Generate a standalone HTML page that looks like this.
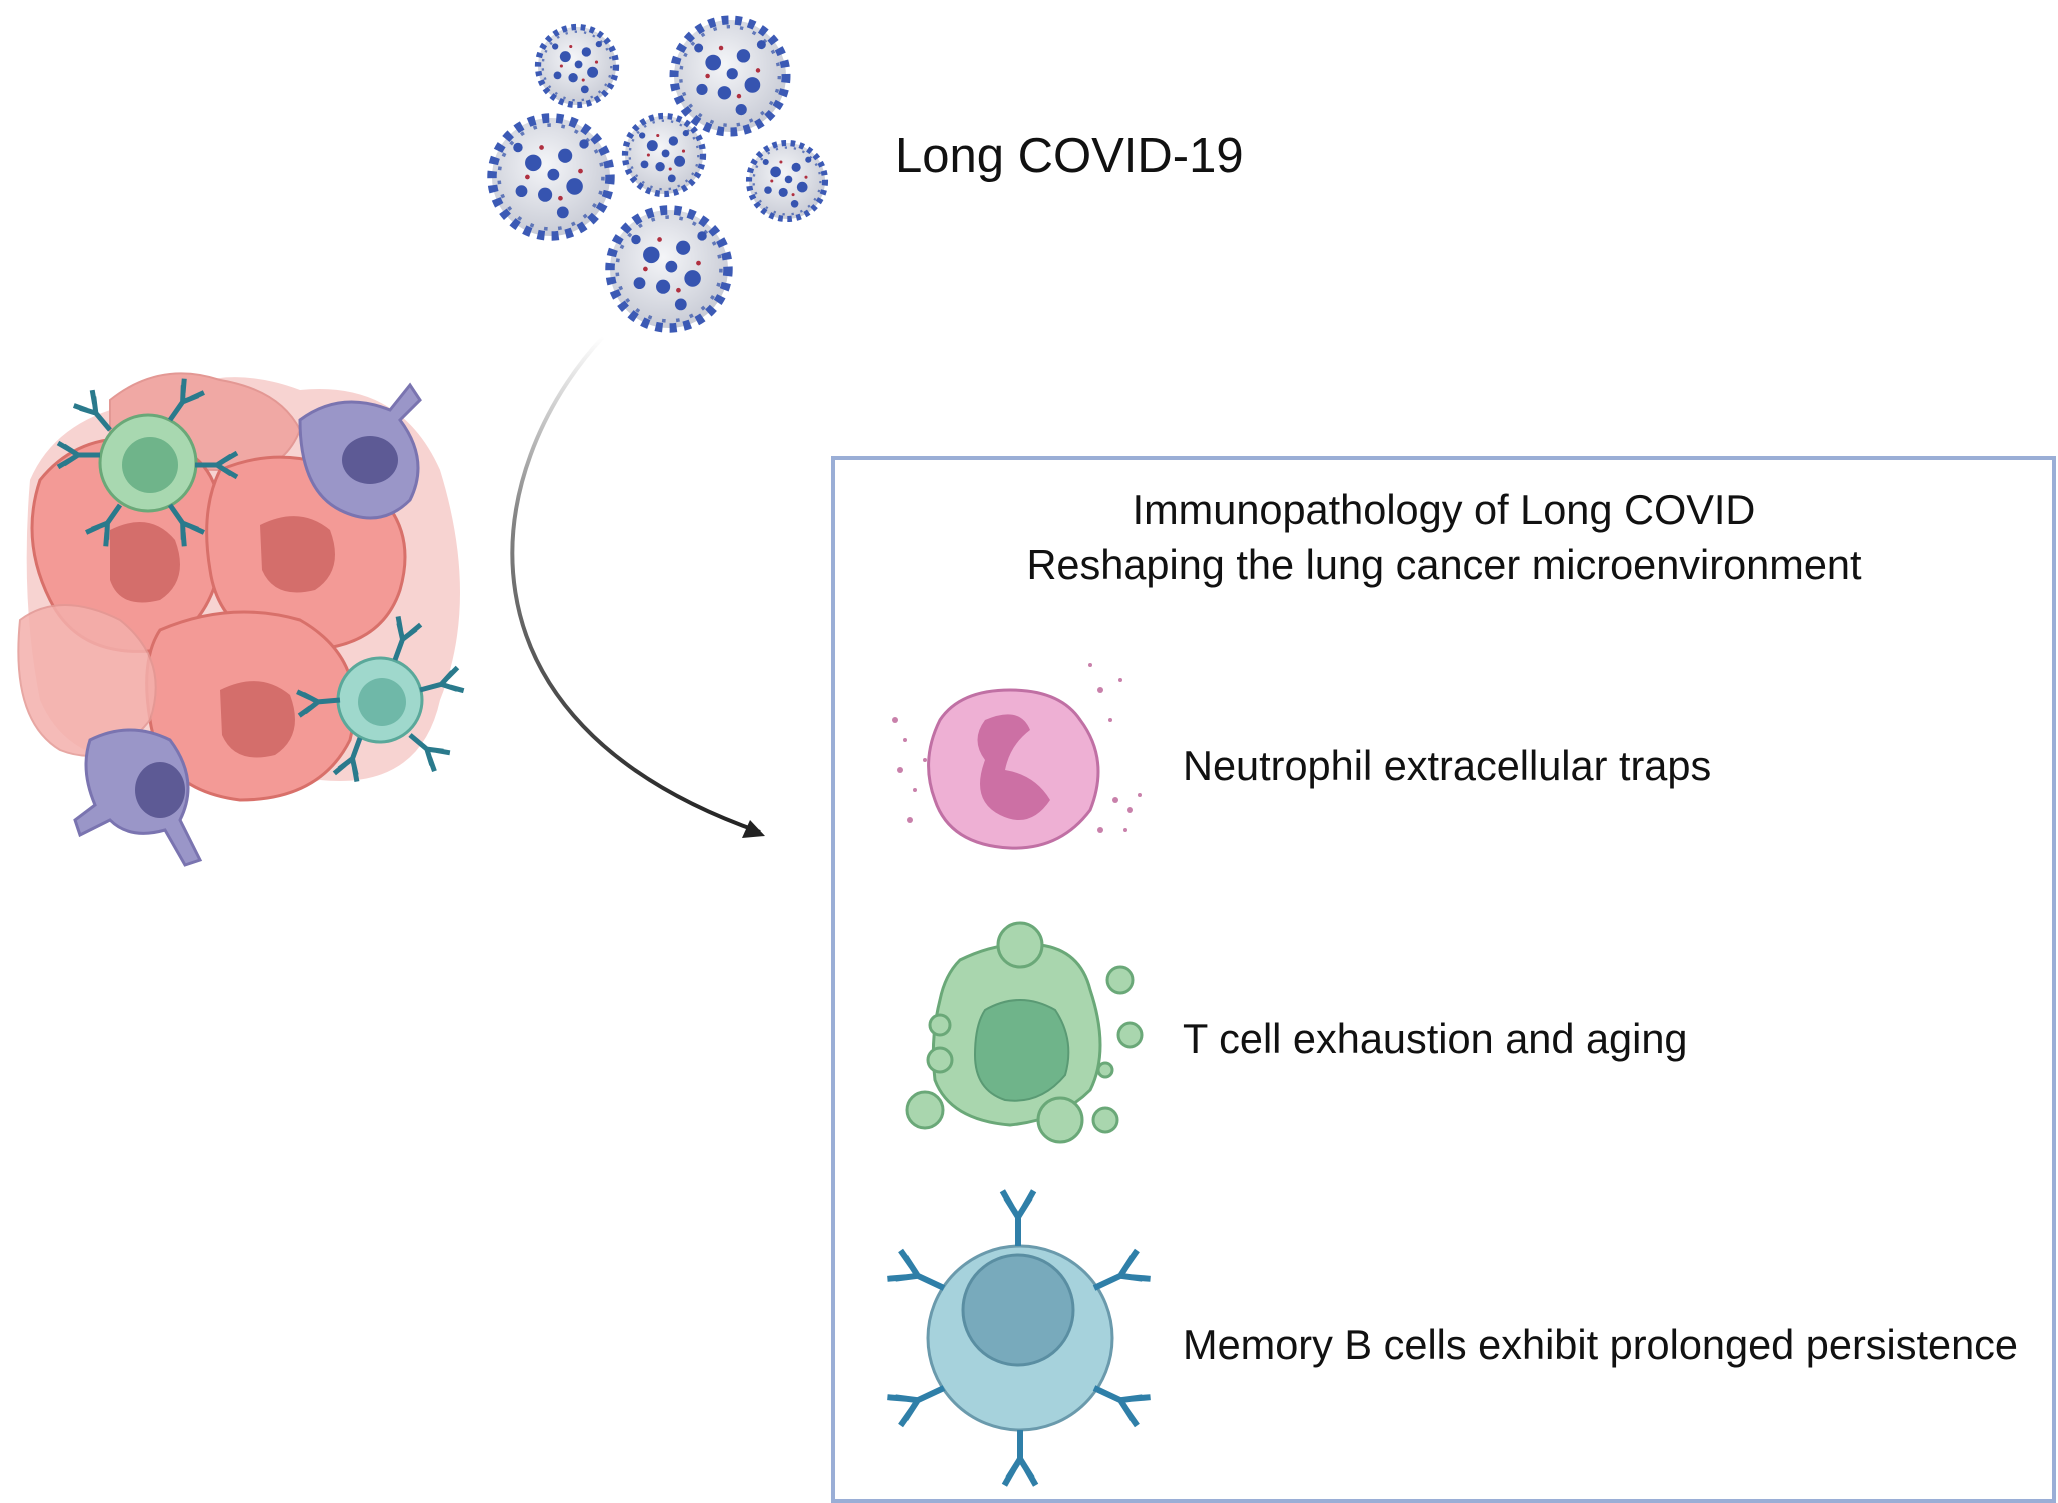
<!DOCTYPE html>
<html><head><meta charset="utf-8"><style>
html,body{margin:0;padding:0;background:#fff;}
svg{display:block}
text{font-family:"Liberation Sans",Arial,sans-serif;fill:#111}
</style></head><body>
<svg width="2058" height="1503" viewBox="0 0 2058 1503" xmlns="http://www.w3.org/2000/svg">
<defs>
<radialGradient id="vir" cx="0.45" cy="0.4" r="0.6"><stop offset="0" stop-color="#f4f5f8"/><stop offset="1" stop-color="#c9ccd6"/></radialGradient>
<linearGradient id="arr" x1="0" y1="0" x2="0" y2="1"><stop offset="0" stop-color="#fff"/><stop offset="0.35" stop-color="#888"/><stop offset="1" stop-color="#222"/></linearGradient>
<g id="virus">
<circle r="50" fill="url(#vir)" stroke="#3c5ab5" stroke-width="8" stroke-dasharray="6 6"/>
<circle r="44" fill="none" stroke="#2f4ea8" stroke-width="3" stroke-dasharray="3 9" opacity="0.7"/>
<g fill="#3654b0"><circle cx="-15" cy="-12" r="7"/><circle cx="12" cy="-18" r="6"/><circle cx="20" cy="8" r="7"/><circle cx="-5" cy="15" r="6"/><circle cx="-25" cy="12" r="5"/><circle cx="2" cy="-2" r="5"/><circle cx="-28" cy="-25" r="4"/><circle cx="28" cy="-28" r="4"/><circle cx="10" cy="30" r="5"/></g>
<g fill="#b03040"><circle cx="-8" cy="-25" r="2"/><circle cx="25" cy="-5" r="2"/><circle cx="-20" cy="0" r="2"/><circle cx="8" cy="18" r="2"/></g>
</g>
<g id="ab" stroke="#2a7a8c" stroke-width="5" fill="none"><path d="M0 0 V-22 M0 -22 L-9 -36 M0 -22 L9 -36 M-5 -30 L-12 -42 M5 -30 L12 -42"/></g>
<g id="abb" stroke="#2f7fa8" stroke-width="5" fill="none"><path d="M0 0 V-24 M0 -24 L-10 -40 M0 -24 L10 -40 M-5 -32 L-13 -46 M5 -32 L13 -46"/></g>
</defs>

<!-- viruses -->
<use href="#virus" transform="translate(730,76) scale(1.12)"/>
<use href="#virus" transform="translate(577,66) scale(0.78)"/>
<use href="#virus" transform="translate(551,177) scale(1.18)"/>
<use href="#virus" transform="translate(664,155) scale(0.78)"/>
<use href="#virus" transform="translate(787,181) scale(0.76)"/>
<use href="#virus" transform="translate(669,269) scale(1.18)"/>

<text x="895" y="172" font-size="49">Long COVID-19</text>

<!-- arrow -->
<path d="M603 337 C480 470 440 720 760 832" fill="none" stroke="url(#arr)" stroke-width="4"/>
<path d="M765 836 L742 838 L750 820 Z" fill="#222"/>

<!-- tumor cluster -->
<g>
<path d="M30 480 Q20 600 40 700 Q70 770 160 760 Q260 800 320 780 Q420 790 440 700 Q480 600 440 470 Q400 380 300 390 Q220 360 160 400 Q60 410 30 480Z" fill="#f3c0bd" opacity="0.7"/>
<path d="M110 400 Q160 360 220 380 Q280 390 300 430 Q280 480 220 470 Q150 470 110 440Z" fill="#f0a8a4" stroke="#e39894" stroke-width="2"/>
<path d="M40 480 Q80 430 150 440 Q220 450 220 520 Q230 610 160 650 Q80 660 50 600 Q20 540 40 480Z" fill="#f39a96" stroke="#d8706a" stroke-width="3"/>
<path d="M220 470 Q290 440 360 480 Q420 520 400 590 Q380 650 300 650 Q220 640 210 570 Q200 510 220 470Z" fill="#f39a96" stroke="#d8706a" stroke-width="3"/>
<path d="M160 630 Q230 600 300 620 Q370 660 350 740 Q320 800 240 800 Q160 790 150 720 Q140 660 160 630Z" fill="#f39a96" stroke="#d8706a" stroke-width="3"/>
<path d="M20 620 Q60 590 120 620 Q170 660 150 720 Q110 770 60 750 Q10 720 20 620Z" fill="#f4b0ac" stroke="#e39894" stroke-width="2" opacity="0.85"/>
<path d="M110 530 Q150 510 175 540 Q190 580 160 600 Q120 610 110 580Z" fill="#d46e6b"/>
<path d="M260 525 Q300 505 330 530 Q345 570 315 590 Q275 600 262 570Z" fill="#d46e6b"/>
<path d="M220 690 Q260 670 290 695 Q305 735 275 755 Q235 765 222 735Z" fill="#d46e6b"/>
<path d="M300 420 Q340 390 390 410 L410 385 L420 400 L400 420 Q430 460 410 500 Q380 530 340 510 Q300 490 300 420Z" fill="#9a96c8" stroke="#7a74b0" stroke-width="3"/>
<ellipse cx="370" cy="460" rx="28" ry="24" fill="#5d5a95"/>
<path d="M90 740 Q130 720 170 740 Q200 780 180 820 L200 860 L185 865 L165 830 Q130 840 110 820 L80 835 L75 820 L95 805 Q80 770 90 740Z" fill="#9a96c8" stroke="#7a74b0" stroke-width="3"/>
<ellipse cx="160" cy="790" rx="25" ry="28" fill="#5d5a95"/>
<circle cx="148" cy="463" r="48" fill="#a8d8b0" stroke="#6aa878" stroke-width="3"/>
<circle cx="150" cy="465" r="28" fill="#6fb48a"/>
<use href="#ab" transform="translate(110,430) rotate(-40)"/>
<use href="#ab" transform="translate(170,420) rotate(35)"/>
<use href="#ab" transform="translate(100,455) rotate(-90)"/>
<use href="#ab" transform="translate(195,465) rotate(90)"/>
<use href="#ab" transform="translate(120,505) rotate(-145)"/>
<use href="#ab" transform="translate(170,505) rotate(145)"/>
<circle cx="380" cy="700" r="42" fill="#9fd8cc" stroke="#5aa89a" stroke-width="3"/>
<circle cx="382" cy="702" r="24" fill="#6fb8a8"/>
<use href="#ab" transform="translate(395,660) rotate(20)"/>
<use href="#ab" transform="translate(420,690) rotate(75)"/>
<use href="#ab" transform="translate(340,700) rotate(-95)"/>
<use href="#ab" transform="translate(410,735) rotate(130)"/>
<use href="#ab" transform="translate(360,738) rotate(-160)"/>
</g>

<!-- box -->
<rect x="833" y="458" width="1221" height="1043" fill="none" stroke="#9aaed6" stroke-width="4"/>
<text x="1444" y="524" font-size="41.5" text-anchor="middle">Immunopathology of Long COVID</text>
<text x="1444" y="579" font-size="41.5" text-anchor="middle">Reshaping the lung cancer microenvironment</text>

<!-- neutrophil -->
<path d="M940 720 Q960 690 1010 690 Q1060 690 1080 720 Q1110 760 1090 810 Q1060 850 1010 848 Q950 845 935 800 Q920 760 940 720Z" fill="#eeb0d4" stroke="#c070a4" stroke-width="3"/>
<path d="M985 720 Q1020 705 1030 730 Q1010 745 1005 770 Q1035 775 1050 800 Q1030 830 1000 815 Q970 800 985 760 Q970 740 985 720Z" fill="#cc70a4"/>
<g fill="#c880aa"><circle cx="895" cy="720" r="3"/><circle cx="905" cy="740" r="2"/><circle cx="900" cy="770" r="3"/><circle cx="915" cy="790" r="2"/><circle cx="910" cy="820" r="3"/><circle cx="1100" cy="690" r="3"/><circle cx="1120" cy="680" r="2"/><circle cx="1110" cy="720" r="2"/><circle cx="1115" cy="800" r="3"/><circle cx="1130" cy="810" r="3"/><circle cx="1140" cy="795" r="2"/><circle cx="1125" cy="830" r="2"/><circle cx="1100" cy="830" r="3"/><circle cx="1090" cy="665" r="2"/><circle cx="925" cy="760" r="2"/></g>
<text x="1183" y="780" font-size="41.5">Neutrophil extracellular traps</text>

<!-- T cell -->
<path d="M960 960 Q1000 940 1040 945 Q1080 950 1090 990 Q1110 1050 1090 1090 Q1060 1120 1010 1125 Q950 1120 935 1080 Q930 1040 940 1000 Q945 975 960 960Z" fill="#a9d6ae" stroke="#6aa878" stroke-width="3"/>
<path d="M985 1010 Q1020 990 1055 1010 Q1075 1040 1065 1075 Q1040 1105 1005 1100 Q975 1090 975 1055 Q975 1025 985 1010Z" fill="#6fb48a" stroke="#5a9a74" stroke-width="2"/>
<g fill="#a9d6ae" stroke="#6aa878" stroke-width="3"><circle cx="1020" cy="945" r="22"/><circle cx="1120" cy="980" r="13"/><circle cx="1130" cy="1035" r="12"/><circle cx="940" cy="1025" r="10"/><circle cx="940" cy="1060" r="12"/><circle cx="925" cy="1110" r="18"/><circle cx="1060" cy="1120" r="22"/><circle cx="1105" cy="1120" r="12"/><circle cx="1105" cy="1070" r="7"/></g>
<text x="1183" y="1053" font-size="41.5">T cell exhaustion and aging</text>

<!-- B cell -->
<circle cx="1020" cy="1338" r="92" fill="#a6d2dc" stroke="#6a9aac" stroke-width="3"/>
<circle cx="1018" cy="1310" r="55" fill="#78aabc" stroke="#5a8ea2" stroke-width="3"/>
<use href="#abb" transform="translate(1018,1246) scale(1.2)"/>
<use href="#abb" transform="translate(1020,1430) rotate(180) scale(1.2)"/>
<use href="#abb" transform="translate(944,1288) rotate(-65) scale(1.2)"/>
<use href="#abb" transform="translate(1094,1288) rotate(65) scale(1.2)"/>
<use href="#abb" transform="translate(944,1388) rotate(-115) scale(1.2)"/>
<use href="#abb" transform="translate(1094,1388) rotate(115) scale(1.2)"/>
<text x="1183" y="1359" font-size="41.5">Memory B cells exhibit prolonged persistence</text>
</svg>
</body></html>
